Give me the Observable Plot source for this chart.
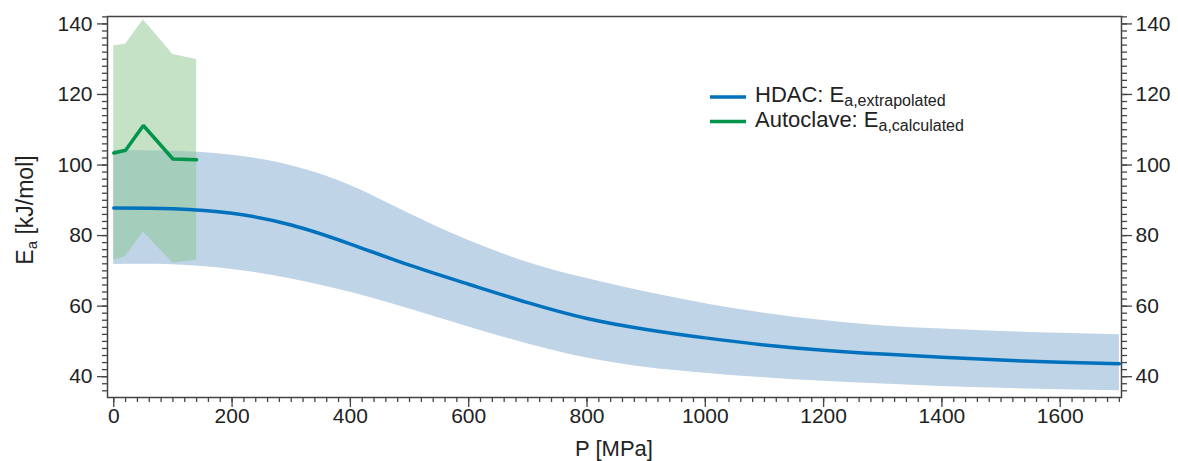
<!DOCTYPE html>
<html>
<head>
<meta charset="utf-8">
<script src="https://cdn.jsdelivr.net/npm/d3@7"></script>
<script src="https://cdn.jsdelivr.net/npm/@observablehq/plot@0.6"></script>
<style>
  html, body { margin: 0; padding: 0; background: #fff; }
  #chart svg { display: block; }
</style>
</head>
<body>
<div id="chart"></div>
<script>
// HDAC extrapolated activation energy vs pressure, with its uncertainty band
const hdacP     = [0, 100, 200, 300, 400, 500, 600, 700, 800, 900, 1000, 1100, 1200, 1300, 1400, 1500, 1600, 1700];
const hdacEa    = [87.8, 87.6, 86.3, 83.0, 77.6, 71.6, 66.2, 61.0, 56.5, 53.4, 51.0, 49.0, 47.5, 46.4, 45.5, 44.7, 44.1, 43.7];
const hdacHigh  = [104.2, 103.9, 102.8, 99.8, 94.2, 86.2, 78.6, 72.4, 67.8, 64.0, 60.7, 58.0, 55.9, 54.4, 53.5, 52.8, 52.3, 51.9];
const hdacLow   = [71.8, 71.7, 70.4, 67.7, 63.9, 59.2, 54.1, 49.3, 45.3, 42.6, 41.0, 39.7, 38.7, 37.9, 37.2, 36.7, 36.3, 36.0];

// Autoclave calculated activation energy with its range
const autoP     = [0, 20, 50, 100, 140];
const autoEa    = [103.4, 104.2, 111.2, 101.7, 101.5];
const autoHigh  = [133.8, 134.2, 141.2, 131.3, 129.9];
const autoLow   = [73.0, 74.1, 81.0, 72.2, 73.0];

// Axis ticks
const xMajorTicks = [0, 200, 400, 600, 800, 1000, 1200, 1400, 1600];
const xMinorTicks = d3.range(0, 1701, 20);
const yMajorTicks = [40, 60, 80, 100, 120, 140];
const yMinorTicks = d3.range(36, 143, 2);

// Legend entries
const legendNames = ["HDAC: E", "Autoclave: E"];
const legendSubs  = ["a,extrapolated", "a,calculated"];

const blue = "#0072bd";
const blueBand = "#bfd4e6";
const green = "#00954a";
const greenBand = "#8cc590";
const axisColor = "#444";

const hdac = hdacP.map((P, i) => ({P, Ea: hdacEa[i], hi: hdacHigh[i], lo: hdacLow[i]}));
const auto = autoP.map((P, i) => ({P, Ea: autoEa[i], hi: autoHigh[i], lo: autoLow[i]}));

const chart = Plot.plot({
  width: 1178,
  height: 461,
  marginLeft: 107,
  marginRight: 57,
  marginTop: 16,
  marginBottom: 64,
  style: {fontFamily: "'Liberation Sans', Arial, sans-serif", fontSize: "21px", color: "#222", background: "#fff"},
  x: {domain: [-10.6, 1703.6], label: null},
  y: {domain: [34.1, 142.1], label: null},
  marks: [
    Plot.areaY(hdac, {x: "P", y1: "lo", y2: "hi", fill: blueBand, curve: "natural"}),
    Plot.areaY(auto, {x: "P", y1: "lo", y2: "hi", fill: greenBand, fillOpacity: 0.5}),
    Plot.lineY(hdac, {x: "P", y: "Ea", stroke: blue, strokeWidth: 3.5, curve: "natural"}),
    Plot.lineY(auto, {x: "P", y: "Ea", stroke: green, strokeWidth: 3.5, strokeLinejoin: "miter"}),
    // bottom axis
    Plot.axisX({ticks: xMinorTicks, tickSize: 5, tickFormat: () => "", label: null, stroke: axisColor, strokeWidth: 1.3}),
    Plot.axisX({ticks: xMajorTicks, tickSize: 10, tickPadding: 1, tickFormat: d3.format("d"), label: null, stroke: axisColor, strokeWidth: 1.3}),
    // left axis
    Plot.axisY({anchor: "left", ticks: yMinorTicks, tickSize: 5, tickFormat: () => "", label: null, stroke: axisColor, strokeWidth: 1.3}),
    Plot.axisY({anchor: "left", ticks: yMajorTicks, tickSize: 10, tickPadding: 5, tickFormat: d3.format("d"), label: null, stroke: axisColor, strokeWidth: 1.3}),
    // right axis
    Plot.axisY({anchor: "right", ticks: yMinorTicks, tickSize: 5, tickFormat: () => "", label: null, stroke: axisColor, strokeWidth: 1.3}),
    Plot.axisY({anchor: "right", ticks: yMajorTicks, tickSize: 10, tickPadding: 4, tickFormat: d3.format("d"), label: null, stroke: axisColor, strokeWidth: 1.3}),
    Plot.frame({stroke: axisColor, strokeWidth: 1.5})
  ]
});

document.getElementById("chart").appendChild(chart);

// Axis titles and legend with subscripts
const svg = d3.select(chart);

const yTitle = svg.append("text")
  .attr("transform", "translate(33,210) rotate(-90)")
  .attr("text-anchor", "middle")
  .attr("fill", "#222")
  .style("font-size", "23px");
yTitle.append("tspan").text("E");
yTitle.append("tspan").attr("dy", 4).style("font-size", "15px").text("a");
yTitle.append("tspan").attr("dy", -4).text(" [kJ/mol]");

svg.append("text")
  .attr("x", 614)
  .attr("y", 456)
  .attr("text-anchor", "middle")
  .attr("fill", "#222")
  .style("font-size", "22px")
  .text("P [MPa]");

const legendColors = [blue, green];
const legend = svg.append("g")
  .attr("transform", "translate(710,97)")
  .attr("text-anchor", "start");
legendNames.forEach((name, i) => {
  const row = legend.append("g").attr("transform", `translate(0,${i * 24.5})`);
  row.append("line")
    .attr("x1", 0).attr("x2", 36).attr("y1", 0).attr("y2", 0)
    .attr("stroke", legendColors[i]).attr("stroke-width", 3.5);
  const t = row.append("text")
    .attr("x", 45).attr("y", 5)
    .attr("text-anchor", "start")
    .attr("fill", "#222")
    .style("font-size", "22px");
  t.append("tspan").text(name);
  t.append("tspan").attr("dy", 4.3).style("font-size", "16px").text(legendSubs[i]);
});
</script>
</body>
</html>
